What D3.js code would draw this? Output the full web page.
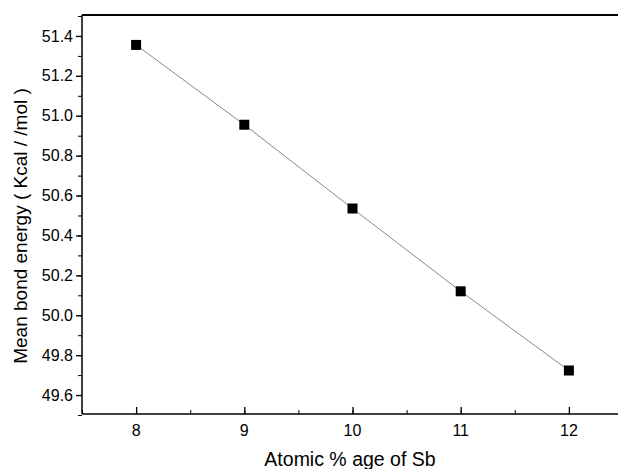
<!DOCTYPE html>
<html>
<head>
<meta charset="utf-8">
<script src="https://cdn.jsdelivr.net/npm/d3@7"></script>
<style>
body { margin: 0; background: #fff; }
text { font-family: "Liberation Sans", Arial, sans-serif; fill: #000; }
</style>
</head>
<body>
<svg class="chart" width="618" height="469"></svg>
<script>
var sb = [8, 9, 10, 11, 12];
var energy = [51.355, 50.955, 50.535, 50.12, 49.723];
var xTicks = [8, 9, 10, 11, 12];
var yTicks = [49.6, 49.8, 50.0, 50.2, 50.4, 50.6, 50.8, 51.0, 51.2, 51.4];

var plotLeft = 82, plotTop = 15, plotRight = 623, plotBottom = 414;

var x = d3.scaleLinear().domain([7.5, 12.5]).range([plotLeft, plotRight]);
var y = d3.scaleLinear().domain([49.505, 51.505]).range([plotBottom, plotTop]);

var chart = d3.select(".chart");

// frame top
chart.append("line")
	.attr("x1", plotLeft).attr("x2", 618)
	.attr("y1", plotTop).attr("y2", plotTop)
	.attr("stroke", "#000").attr("stroke-width", 2);

// x axis, ticks inward
chart.append("g")
	.attr("transform", "translate(0," + plotBottom + ")")
	.call(d3.axisTop(x).tickValues(d3.range(7.5, 12.6, 0.5)).tickSize(4).tickFormat(""))
	.call(function(g) { g.select(".domain").remove(); });

var xa = chart.append("g")
	.attr("transform", "translate(0," + plotBottom + ")")
	.call(d3.axisTop(x).tickValues(xTicks).tickSize(7).tickFormat(""));
xa.select(".domain").attr("d", "M" + plotLeft + ",0H618").attr("stroke-width", 1.3);
xa.selectAll("line").attr("stroke-width", 1.3);

chart.append("g")
	.selectAll("text")
	.data(xTicks)
	.enter().append("text")
	.attr("x", function(d) { return x(d); })
	.attr("y", plotBottom + 22)
	.attr("text-anchor", "middle")
	.style("font-size", "16px")
	.text(function(d) { return d; });

// y axis, ticks outward
chart.append("g")
	.attr("transform", "translate(" + plotLeft + ",0)")
	.call(d3.axisLeft(y).tickValues(d3.range(49.5, 51.51, 0.1).map(function(v) { return +v.toFixed(1); })).tickSize(4).tickFormat(""))
	.call(function(g) { g.select(".domain").remove(); });

var ya = chart.append("g")
	.attr("transform", "translate(" + plotLeft + ",0)")
	.call(d3.axisLeft(y).tickValues(yTicks).tickSize(6).tickFormat(d3.format(".1f")));
ya.select(".domain").attr("d", "M0," + plotTop + "V" + plotBottom).attr("stroke-width", 1.5);
ya.selectAll("line").attr("stroke-width", 1.3);
ya.selectAll("text")
	.style("font-size", "16px")
	.style("font-family", "'Liberation Sans', Arial, sans-serif")
	.attr("fill", "#000")
	.attr("x", -9);

// data line
chart.append("path")
	.datum(d3.zip(sb, energy))
	.attr("fill", "none")
	.attr("stroke", "#888")
	.attr("stroke-width", 1)
	.attr("d", d3.line().x(function(d) { return x(d[0]); }).y(function(d) { return y(d[1]); }));

chart.append("g")
	.selectAll("rect")
	.data(d3.zip(sb, energy))
	.enter().append("rect")
	.attr("x", function(d) { return x(d[0]) - 5; })
	.attr("y", function(d) { return y(d[1]) - 5; })
	.attr("width", 10)
	.attr("height", 10)
	.attr("fill", "#000");

// axis labels
chart.append("text")
	.attr("x", 350)
	.attr("y", 466)
	.attr("text-anchor", "middle")
	.style("font-size", "19.5px")
	.text("Atomic % age of Sb");

chart.append("text")
	.attr("transform", "translate(27,226) rotate(-90)")
	.attr("text-anchor", "middle")
	.style("font-size", "19px")
	.text("Mean bond energy ( Kcal / /mol )");
</script>
</body>
</html>
